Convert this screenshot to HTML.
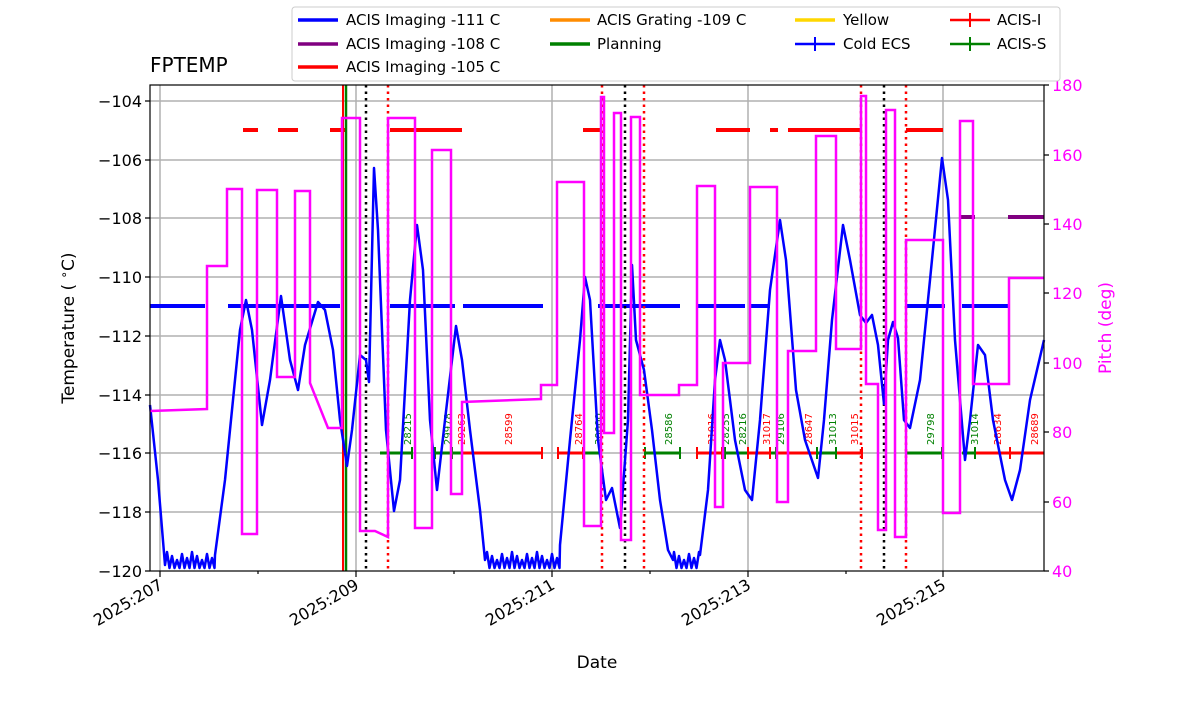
<!DOCTYPE html>
<html><head><meta charset="utf-8"><style>body{margin:0;background:#fff}svg{display:block;font-family:"DejaVu Sans","Liberation Sans",sans-serif}</style></head>
<body>
<svg id="s" width="1200" height="714" viewBox="0 0 1200 714" xmlns="http://www.w3.org/2000/svg">
<g stroke="#b0b0b0" stroke-width="1.5">
<line x1="160" y1="85" x2="160" y2="571"/><line x1="356" y1="85" x2="356" y2="571"/><line x1="552" y1="85" x2="552" y2="571"/><line x1="748" y1="85" x2="748" y2="571"/><line x1="943" y1="85" x2="943" y2="571"/>
<line x1="150" y1="101" x2="1044" y2="101"/><line x1="150" y1="160" x2="1044" y2="160"/><line x1="150" y1="218" x2="1044" y2="218"/><line x1="150" y1="277" x2="1044" y2="277"/><line x1="150" y1="336" x2="1044" y2="336"/><line x1="150" y1="395" x2="1044" y2="395"/><line x1="150" y1="453" x2="1044" y2="453"/><line x1="150" y1="512" x2="1044" y2="512"/>
</g>
<g stroke-width="4" fill="none">
<path stroke="red" d="M243 130H258M278 130H298M330 130H345M390 130H462M583 130H602M716 130H750M770 130H778M788 130H862M906 130H943"/>
<path stroke="blue" d="M150 306H205M228 306H340M390 306H455M463 306H543M598 306H680M697 306H745M750 306H770M905 306H945M962 306H1008"/>
<path stroke="purple" d="M960 217H975M1008 217H1044"/>
</g>
<g stroke-width="3" fill="none">
<path stroke="green" d="M380 453H412M435 453H452M452 453H462M583 453H601M645 453H680M722 453H748M770 453H776M817 453H836M907 453H942M962 453H975"/>
<path stroke="red" d="M462 453H542M558 453H583M697 453H722M748 453H770M776 453H817M836 453H862M975 453H1044"/>
</g>
<g stroke-width="2">
<path stroke="green" d="M412 447v12M435 447v12M452 447v12M601 447v12M645 447v12M680 447v12M725 447v12M776 447v12M817 447v12M836 447v12M942 447v12M975 447v12"/>
<path stroke="red" d="M542 447v12M558 447v12M583 447v12M697 447v12M722 447v12M748 447v12M770 447v12M862 447v12M1010 447v12"/>
</g>
<g font-size="10" fill="green" text-anchor="start">
<text transform="translate(411,445) rotate(-90)">28215</text>
<text transform="translate(451,445) rotate(-90)">29978</text>
<text transform="translate(465,445) rotate(-90)" fill="red">29263</text>
<text transform="translate(512,445) rotate(-90)" fill="red">28599</text>
<text transform="translate(582,445) rotate(-90)" fill="red">28764</text>
<text transform="translate(602,445) rotate(-90)">30000</text>
<text transform="translate(672,445) rotate(-90)">28586</text>
<text transform="translate(715,445) rotate(-90)" fill="red">31016</text>
<text transform="translate(729,445) rotate(-90)">28255</text>
<text transform="translate(746,445) rotate(-90)">28216</text>
<text transform="translate(770,445) rotate(-90)" fill="red">31017</text>
<text transform="translate(784,445) rotate(-90)">29106</text>
<text transform="translate(812,445) rotate(-90)" fill="red">28647</text>
<text transform="translate(836,445) rotate(-90)">31013</text>
<text transform="translate(858,445) rotate(-90)" fill="red">31015</text>
<text transform="translate(934,445) rotate(-90)">29798</text>
<text transform="translate(978,445) rotate(-90)">31014</text>
<text transform="translate(1001,445) rotate(-90)" fill="red">28634</text>
<text transform="translate(1038,445) rotate(-90)" fill="red">28689</text>
</g>
<line x1="343" y1="85" x2="343" y2="571" stroke="red" stroke-width="2"/>
<line x1="346" y1="85" x2="346" y2="571" stroke="green" stroke-width="2.5"/>
<g stroke-width="2.5" stroke-dasharray="2.5,4">
<path stroke="red" d="M388 85V571M602 85V571M644 85V571M861 85V571M906 85V571"/>
<path stroke="black" d="M366 85V571M625 85V571M884 85V571"/>
</g>
<path id="blue" stroke="blue" stroke-width="2.5" fill="none" stroke-linejoin="round"/>
<path stroke="magenta" stroke-width="2.5" fill="none" d="M150 411L207 409V266H227V189H242V534H257V190H277V377H295V191H310V383L328 428H333V428H342V118H360V531H375L388 537V118H415V528H432V150H451V494H462V402L541 399V385H557V182H584V526H601V97H604V433H614V113H621V540H631V117H640V395H679V385H697V186H715V507H723V363H750V187H777V502H788V351H816V136H836V349H861V96H866V384H878V530H886V110H895V537H906V240H943V513H960V121H973V384H1009V278H1044"/>
<rect x="150" y="85" width="894" height="486" fill="none" stroke="#000" stroke-width="1.2"/>
<g stroke="#000" stroke-width="1.2">
<path d="M150 101h-5M150 160h-5M150 218h-5M150 277h-5M150 336h-5M150 395h-5M150 453h-5M150 512h-5M150 571h-5"/>
<path d="M160 571v6M356 571v6M552 571v6M748 571v6M943 571v6M258 571v3M454 571v3M650 571v3M846 571v3"/>
<path d="M1044 571h5M1044 502h5M1044 432h5M1044 363h5M1044 293h5M1044 224h5M1044 155h5M1044 85h5"/>
</g>
<g font-size="16" text-anchor="end">
<text x="142" y="107">−104</text><text x="142" y="166">−106</text><text x="142" y="224">−108</text><text x="142" y="283">−110</text><text x="142" y="342">−112</text><text x="142" y="401">−114</text><text x="142" y="459">−116</text><text x="142" y="518">−118</text><text x="142" y="577">−120</text>
</g>
<g font-size="16" fill="magenta">
<text x="1052" y="577">40</text><text x="1052" y="508">60</text><text x="1052" y="438">80</text><text x="1052" y="369">100</text><text x="1052" y="299">120</text><text x="1052" y="230">140</text><text x="1052" y="161">160</text><text x="1052" y="91">180</text>
<text transform="translate(1111,328) rotate(-90)" text-anchor="middle" font-size="17">Pitch (deg)</text>
</g>
<g font-size="16" text-anchor="end">
<text transform="translate(164,588) rotate(-30)">2025:207</text>
<text transform="translate(360,588) rotate(-30)">2025:209</text>
<text transform="translate(556,588) rotate(-30)">2025:211</text>
<text transform="translate(752,588) rotate(-30)">2025:213</text>
<text transform="translate(947,588) rotate(-30)">2025:215</text>
</g>
<text x="597" y="668" font-size="17" text-anchor="middle">Date</text>
<text transform="translate(74,328) rotate(-90)" font-size="17" text-anchor="middle">Temperature ( <tspan font-size="12" dy="-6">∘</tspan><tspan dy="6">C)</tspan></text>
<text x="150" y="72" font-size="20">FPTEMP</text>
<rect x="292" y="7" width="768" height="74" fill="#fff" stroke="#ccc" rx="3"/>
<g stroke-width="3.5">
<line x1="298" y1="20" x2="338" y2="20" stroke="blue"/><line x1="298" y1="44" x2="338" y2="44" stroke="purple"/><line x1="298" y1="67" x2="338" y2="67" stroke="red"/>
<line x1="550" y1="20" x2="590" y2="20" stroke="darkorange"/><line x1="550" y1="44" x2="590" y2="44" stroke="green"/>
<line x1="795" y1="20" x2="835" y2="20" stroke="gold"/><line x1="795" y1="44" x2="835" y2="44" stroke="blue" stroke-width="2.5"/><line x1="815" y1="37" x2="815" y2="51" stroke="blue" stroke-width="2"/>
<line x1="950" y1="20" x2="990" y2="20" stroke="red" stroke-width="2.5"/><line x1="970" y1="13" x2="970" y2="27" stroke="red" stroke-width="2"/>
<line x1="950" y1="44" x2="990" y2="44" stroke="green" stroke-width="2.5"/><line x1="970" y1="37" x2="970" y2="51" stroke="green" stroke-width="2"/>
</g>
<g font-size="15">
<text x="346" y="25">ACIS Imaging -111 C</text><text x="346" y="49">ACIS Imaging -108 C</text><text x="346" y="72">ACIS Imaging -105 C</text>
<text x="597" y="25">ACIS Grating -109 C</text><text x="597" y="49">Planning</text>
<text x="843" y="25">Yellow</text><text x="843" y="49">Cold ECS</text>
<text x="997" y="25">ACIS-I</text><text x="997" y="49">ACIS-S</text>
</g>
</svg>
<script>
var pts=[[150,405],[158,480],[165,565]];
function noise(a,b){var i=0;for(var x=a;x<b;x+=2.5){pts.push([x,(i%2)?568:(552+(i*7)%10)]);i++;}}
noise(167,216);
pts=pts.concat([[215,555],[225,480],[240,330],[246,300],[252,330],[262,425],[270,380],[281,296],[290,360],[298,390],[305,345],[318,302],[325,310],[333,350],[340,420],[347,466],[352,430],[360,355],[366,360],[369,382],[374,168],[378,230],[386,430],[394,511],[400,480],[410,300],[417,225],[423,270],[430,420],[437,490],[445,420],[456,326],[462,360],[470,430],[480,510],[485,560]]);
noise(487,560);
pts=pts.concat([[560,545],[570,440],[580,340],[585,277],[590,300],[598,440],[606,500],[612,488],[620,528],[628,420],[632,265],[636,340],[644,370],[652,430],[660,500],[668,550],[673,560]]);
noise(674,700);
pts=pts.concat([[700,555],[708,490],[715,380],[720,340],[725,360],[735,440],[745,490],[752,500],[760,420],[770,290],[780,220],[786,260],[796,390],[805,440],[818,478],[824,420],[832,320],[843,225],[850,260],[860,315],[866,323],[872,315],[878,345],[884,404],[888,340],[893,322],[898,338],[904,420],[910,428],[920,380],[930,280],[942,158],[948,200],[955,340],[965,460],[970,420],[978,345],[985,355],[993,420],[1005,480],[1012,500],[1020,470],[1030,400],[1044,340]]);
document.getElementById('blue').setAttribute('d','M'+pts.map(function(p){return p[0]+' '+p[1]}).join('L'));
</script>
</body></html>
